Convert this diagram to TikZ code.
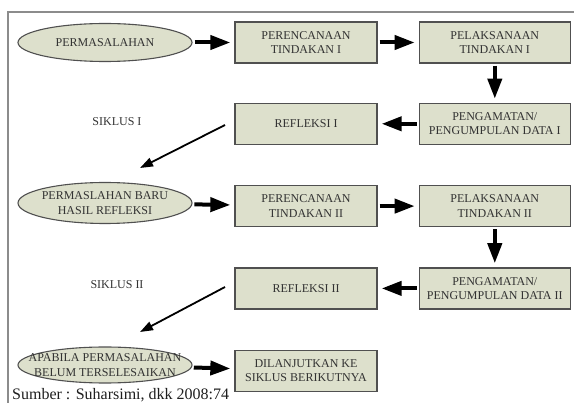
\documentclass[tikz,border=0pt]{standalone}
\usepackage{fontspec}
\setmainfont{Liberation Serif}
\usetikzlibrary{arrows.meta, positioning, shapes.geometric}
\definecolor{boxfill}{RGB}{221,224,204}
\definecolor{boxline}{RGB}{80,80,80}
\definecolor{boxtext}{RGB}{50,50,50}
\definecolor{srctext}{RGB}{30,30,30}
\definecolor{framegray}{RGB}{140,140,140}

\begin{document}
\begin{tikzpicture}[x=1pt, y=1pt,
  kotak/.style={draw=boxline, line width=1.3pt, fill=boxfill, minimum height=41pt, align=center, text=boxtext, font=\fontsize{12}{14.5}\selectfont, inner sep=0pt},
  kecil/.style={kotak, minimum width=142pt},
  besar/.style={kotak, minimum width=151pt},
  elips/.style={ellipse, draw=boxline, line width=1.1pt, fill=boxfill, minimum width=174pt, minimum height=38pt, inner xsep=-16pt, inner ysep=0pt, align=center, text=boxtext, font=\fontsize{12}{14.5}\selectfont},
  siklus/.style={text=boxtext, font=\fontsize{12}{14.5}\selectfont},
  tebal/.style={-{Triangle[length=20pt, width=14pt]}, line width=4pt, shorten >=4pt, shorten <=2pt},
  tipis/.style={-{Triangle[length=13pt, width=9pt]}, line width=1.8pt}]
  \useasboundingbox (0,0) rectangle (574,-403);
  \draw[framegray, line width=1.3pt] (8,-403) -- (8,-12) -- (574,-12);
  % siklus I
  \node[elips] (e1) at (105,-42.5) {PERMASALAHAN};
  \node[kecil] (r1) at (306,-42.5) {PERENCANAAN\\TINDAKAN I};
  \node[besar, right=41pt of r1] (l1) {PELAKSANAAN\\TINDAKAN I};
  \node[besar, below=39pt of l1] (g1) {PENGAMATAN/\\PENGUMPULAN DATA I};
  \node[kecil, below=39pt of r1] (f1) {REFLEKSI I};
  \node[siklus] (s1) at (117,-122) {SIKLUS I};
  % siklus II
  \node[elips, minimum height=41pt] (e2) at (105,-203) {PERMASLAHAN BARU\\HASIL REFLEKSI};
  \node[kecil, below=40pt of f1] (r2) {PERENCANAAN\\TINDAKAN II};
  \node[besar, below=40pt of g1] (l2) {PELAKSANAAN\\TINDAKAN II};
  \node[besar, below=40pt of l2] (g2) {PENGAMATAN/\\PENGUMPULAN DATA II};
  \node[kecil, below=40pt of r2] (f2) {REFLEKSI II};
  \node[siklus] (s2) at (117,-285) {SIKLUS II};
  % lanjut
  \node[elips, minimum height=36pt] (e3) at (105,-365) {APABILA PERMASALAHAN\\BELUM TERSELESAIKAN};
  \node[kecil, below=40pt of f2] (d) {DILANJUTKAN KE\\SIKLUS BERIKUTNYA};
  \node[anchor=base west, text=srctext, font=\fontsize{16}{19}\selectfont, inner sep=0pt] (src) at (12,-400) {Sumber : Suharsimi, dkk 2008:74};
  \coordinate (a1) at (225,-125);
  \coordinate (b1) at (140,-168);
  \coordinate (a2) at (225,-287);
  \coordinate (b2) at (140,-332);
  \draw[tebal] (e1) -- (r1);
  \draw[tebal] (r1) -- (l1);
  \draw[tebal] (l1) -- (g1);
  \draw[tebal] (g1) -- (f1);
  \draw[tipis] (a1) -- (b1);
  \draw[tebal] (e2) -- (r2);
  \draw[tebal] (r2) -- (l2);
  \draw[tebal] (l2) -- (g2);
  \draw[tebal] (g2) -- (f2);
  \draw[tipis] (a2) -- (b2);
  \draw[tebal] (e3) -- (d);
\end{tikzpicture}
\end{document}
